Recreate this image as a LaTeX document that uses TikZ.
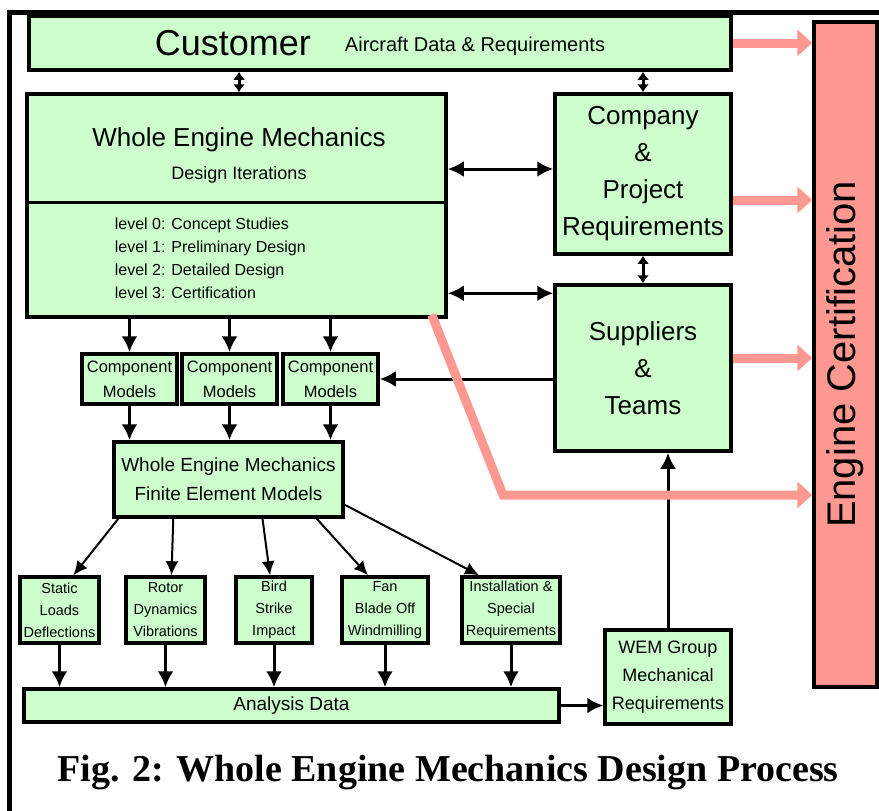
\documentclass[tikz,border=0pt]{standalone}
\usepackage{fontspec}
\setmainfont{Liberation Sans}
\newfontfamily\captionfont{Liberation Serif}
\usepackage{tikz}
\usetikzlibrary{arrows.meta}

\definecolor{wemgreen}{HTML}{CCFFCC}
\definecolor{certpink}{HTML}{FF9890}

\begin{document}
\begin{tikzpicture}[
            x = 1pt, y = -1pt, % one unit per pixel, y runs down
            > = {Latex[length=16pt,width=16pt]}, % arrow head style
            line width = 3pt, % connector lines
            block/.style = {draw, fill=wemgreen, line width=3.5pt, inner sep=0pt, align=center},
            smallhead/.style = {> = {Latex[length=8pt,width=12pt]}},
            femlink/.style = {line width=2pt, -{Latex[length=14pt,width=13pt]}},
            certarrow/.style = {draw=certpink, line width=9pt, -{Triangle[length=15pt,width=26pt]}}
        ]

	\useasboundingbox (0,0) rectangle (879,811);

	% outer frame
	\draw[line width=5pt] (9,811) -- (9,12) -- (879,12);

	\node[block, minimum width=702pt, minimum height=54pt] (cust) at (380,43)
		{\fontsize{36}{36}\selectfont Customer\hspace{34pt}\raisebox{4pt}{\fontsize{20}{20}\selectfont Aircraft Data \& Requirements}};
	\node[draw, fill=certpink, line width=3.5pt, inner sep=0pt, minimum width=63pt, minimum height=665pt] (cert) at (845.5,354.5) {};
	\node[rotate=90, font=\fontsize{40}{40}\selectfont] (certtext) at (cert.center) {Engine Certification};

	% whole engine mechanics box
	\node[block, minimum width=419pt, minimum height=223pt] (wem) at (236.5,205.5) {};
	\coordinate (wemsplit) at (0,202);
	\draw (wem.west |- wemsplit) -- (wem.east |- wemsplit);
	\node[font=\fontsize{26}{26}\selectfont] (wemname) at (239,140) {Whole Engine Mechanics};
	\node[font=\fontsize{18}{18}\selectfont] (wemiter) at (239,175) {Design Iterations};
	\node[anchor=west, align=left, font=\fontsize{16}{23}\selectfont] (wemlevels) at (110,258)
		{level 0: Concept Studies\\ level 1: Preliminary Design\\ level 2: Detailed Design\\ level 3: Certification};

	\node[block, minimum width=176pt, minimum height=160pt, font=\fontsize{26}{37}\selectfont] (comp) at (643,174) {Company\\ \&\\ Project\\ Requirements};
	\node[block, minimum width=176pt, minimum height=166pt, font=\fontsize{26}{37}\selectfont] (supp) at (643,368) {Suppliers\\ \&\\ Teams};

	\node[block, minimum width=95pt, minimum height=50pt, font=\fontsize{16.5}{25}\selectfont] (cm1) at (129.5,379) {Component\\ Models};
	\node[block, minimum width=95pt, minimum height=50pt, font=\fontsize{16.5}{25}\selectfont] (cm2) at (229.5,379) {Component\\ Models};
	\node[block, minimum width=95pt, minimum height=50pt, font=\fontsize{16.5}{25}\selectfont] (cm3) at (330.5,379) {Component\\ Models};

	\node[block, minimum width=229pt, minimum height=75pt, font=\fontsize{19}{29}\selectfont] (fem) at (228.5,479.5) {Whole Engine Mechanics\\ Finite Element Models};

	\node[block, minimum width=79pt, minimum height=66pt, font=\fontsize{14.5}{22}\selectfont] (an1) at (59.5,610) {Static\\ Loads\\ Deflections};
	\node[block, minimum width=79pt, minimum height=66pt, font=\fontsize{14.5}{22}\selectfont] (an2) at (165.5,610) {Rotor\\ Dynamics\\ Vibrations};
	\node[block, minimum width=76pt, minimum height=66pt, font=\fontsize{14.5}{22}\selectfont] (an3) at (274,610) {Bird\\ Strike\\ Impact};
	\node[block, minimum width=86pt, minimum height=66pt, font=\fontsize{14.5}{22}\selectfont] (an4) at (385,610) {Fan\\ Blade Off\\ Windmilling};
	\node[block, minimum width=98pt, minimum height=66pt, font=\fontsize{14.5}{22}\selectfont] (an5) at (511,610) {Installation \&\\ Special\\ Requirements};

	\node[block, minimum width=535pt, minimum height=33pt, font=\fontsize{19}{19}\selectfont] (adata) at (291.5,705.5) {Analysis Data};
	\node[block, minimum width=126pt, minimum height=94pt, font=\fontsize{18}{28}\selectfont] (wemg) at (668,677) {WEM Group\\ Mechanical\\ Requirements};

	% black connectors
	\draw[smallhead,<->] (cust.south -| wemname) -- (wem.north -| wemname);
	\draw[smallhead,<->] (cust.south -| comp.north) -- (comp.north);
	\draw[<->] ([yshift=5pt]comp.west -| wem.east) -- ([yshift=5pt]comp.west);
	\draw[<->] ([yshift=-10pt]supp.north west -| wem.east) -- ([yshift=-10pt]supp.north west);
	\draw[smallhead,<->] (comp.south) -- (supp.north);

	\draw[->] (wem.south -| cm1.north) -- (cm1.north);
	\draw[->] (wem.south -| cm2.north) -- (cm2.north);
	\draw[->] (wem.south -| cm3.north) -- (cm3.north);
	\draw[->] (supp.west |- cm3.east) -- (cm3.east);

	\draw[->] (cm1.south) -- (fem.north -| cm1.south);
	\draw[->] (cm2.south) -- (fem.north -| cm2.south);
	\draw[->] (cm3.south) -- (fem.north -| cm3.south);

	\draw[femlink] ([xshift=6pt]fem.south west) -- ([xshift=14pt]an1.north);
	\draw[femlink] ([xshift=61pt]fem.south west) -- ([xshift=6pt]an2.north);
	\draw[femlink] ([xshift=34pt]fem.south) -- ([xshift=-4pt]an3.north);
	\draw[femlink] ([xshift=-28pt]fem.south east) -- ([xshift=-17pt]an4.north);
	\draw[femlink] ([yshift=14pt]fem.south east) -- ([xshift=-32pt]an5.north);

	\draw[->] (an1.south) -- (adata.north -| an1.south);
	\draw[->] (an2.south) -- (adata.north -| an2.south);
	\draw[->] (an3.south) -- (adata.north -| an3.south);
	\draw[->] (an4.south) -- (adata.north -| an4.south);
	\draw[->] (an5.south) -- (adata.north -| an5.south);
	\draw[->] (adata.east) -- (wemg.west |- adata.east);
	\draw[->] (wemg.north) -- (supp.south -| wemg.north);

	% pink arrows into certification
	\coordinate (certbend) at (503,495);
	\draw[certarrow] (cust.east) -- (cert.west |- cust.east);
	\draw[certarrow] ([yshift=-26pt]comp.east) -- ([yshift=-26pt]comp.east -| cert.west);
	\draw[certarrow] ([yshift=10pt]supp.east) -- ([yshift=10pt]supp.east -| cert.west);
	\draw[certarrow] ([xshift=-16pt,yshift=4pt]wem.south east) -- (certbend) -- (certbend -| cert.west);

	\node[font=\captionfont\bfseries\fontsize{38}{38}\selectfont] (caption) at (448,773) {Fig. 2: Whole Engine Mechanics Design Process};

\end{tikzpicture}
\end{document}
